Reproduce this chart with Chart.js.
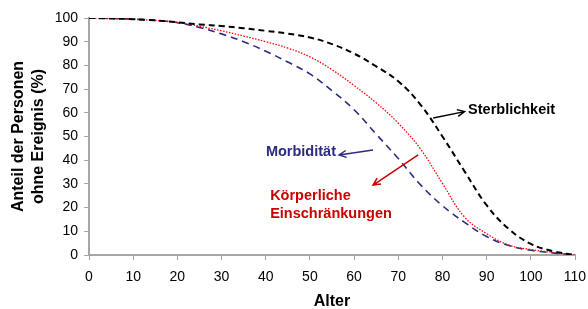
<!DOCTYPE html>
<html>
<head>
<meta charset="utf-8">
<script src="https://cdn.jsdelivr.net/npm/chart.js@4"></script>
<style>
  html, body { margin: 0; padding: 0; background: #fff; }
  #wrap { width: 588px; height: 309px; }
</style>
</head>
<body>
<div id="wrap"><canvas id="myChart"></canvas></div>
<script>
// Alter (Jahre)
const ages = [0, 5, 10, 15, 20, 25, 30, 35, 40, 45, 50, 55, 60, 65, 70, 75, 80, 85, 90, 95, 100, 105, 110];
// Anteil der Personen ohne Ereignis (%)
const sterblichkeit = [100, 99.8, 99.5, 99, 98.2, 97.3, 96.6, 95.7, 94.6, 93.4, 91.8, 89, 85, 79.6, 73.3, 63.5, 50, 35.3, 21, 11, 4.7, 1.6, 0];
const koerperlich = [100, 99.8, 99.5, 99, 98.2, 96.5, 94.6, 92.4, 90, 87.3, 83.6, 78.2, 71.5, 64.2, 55.6, 44.8, 30.2, 16, 9, 4.2, 2.3, 1.1, 0];
const morbiditaet = [100, 99.8, 99.5, 99, 98, 96, 93.3, 90, 86, 81.4, 76.4, 69.3, 61.3, 51, 40.7, 29.7, 20.8, 13.8, 7.8, 4, 2, 0.9, 0];
const xTicks = [0, 10, 20, 30, 40, 50, 60, 70, 80, 90, 100, 110];
const yTicks = [0, 10, 20, 30, 40, 50, 60, 70, 80, 90, 100];

const pts = (arr) => arr.map((v, i) => ({ x: ages[i], y: v }));

const NAVY = "#2b2b80";
const DARKRED = "#cc0000";
const FONT = "'Liberation Sans', Arial, sans-serif";

// Beschriftungen mit Pfeilen (in Datenkoordinaten)
const labels = [
  { text: ["Sterblichkeit"], x: 85.8, y: 61.2, align: "left", color: "#000000",
    arrow: { from: [77.9, 57.8], to: [85, 60.5] } },
  { text: ["Morbidität"], x: 55.9, y: 43.3, align: "right", color: NAVY,
    arrow: { from: [64.3, 44.3], to: [56.6, 42.2] } },
  { text: ["Körperliche", "Einschränkungen"], x: 41, y: 25, align: "left", color: DARKRED,
    arrow: { from: [74.5, 42.2], to: [64.3, 29.5] } },
];

const annotate = {
  id: "annotate",
  afterDraw(chart) {
    const c = chart.ctx;
    const xs = chart.scales.x, ys = chart.scales.y;
    c.save();
    labels.forEach((l) => {
      c.fillStyle = l.color;
      c.strokeStyle = l.color;
      c.font = "bold 14.5px " + FONT;
      c.textAlign = l.align;
      c.textBaseline = "middle";
      l.text.forEach((t, i) => {
        c.fillText(t, xs.getPixelForValue(l.x), ys.getPixelForValue(l.y) + i * 18);
      });
      // Pfeil
      const x1 = xs.getPixelForValue(l.arrow.from[0]), y1 = ys.getPixelForValue(l.arrow.from[1]);
      const x2 = xs.getPixelForValue(l.arrow.to[0]), y2 = ys.getPixelForValue(l.arrow.to[1]);
      const a = Math.atan2(y2 - y1, x2 - x1);
      c.lineWidth = 1.5;
      c.setLineDash([]);
      c.beginPath();
      c.moveTo(x1, y1);
      c.lineTo(x2, y2);
      c.moveTo(x2 - 8 * Math.cos(a - 0.45), y2 - 8 * Math.sin(a - 0.45));
      c.lineTo(x2, y2);
      c.lineTo(x2 - 8 * Math.cos(a + 0.45), y2 - 8 * Math.sin(a + 0.45));
      c.stroke();
    });
    c.restore();
  },
};

const cht = document.getElementById("myChart");

const chart = new Chart(cht, {
  type: "line",
  data: {
    datasets: [
      {
        label: "Sterblichkeit",
        data: pts(sterblichkeit),
        borderColor: "#000000",
        borderWidth: 2,
        borderDash: [6, 4],
      },
      {
        label: "Körperliche Einschränkungen",
        data: pts(koerperlich),
        borderColor: "#ff0000",
        borderWidth: 1.3,
        borderDash: [1.5, 1.5],
      },
      {
        label: "Morbidität",
        data: pts(morbiditaet),
        borderColor: NAVY,
        borderWidth: 1.6,
        borderDash: [7, 5],
      },
    ],
  },
  options: {
    responsive: true,
    maintainAspectRatio: false,
    animation: false,
    devicePixelRatio: 1,
    elements: {
      point: { radius: 0 },
      line: { tension: 0.4, fill: false },
    },
    layout: { padding: { top: 18, right: 0, left: 0, bottom: 0 } },
    scales: {
      x: {
        type: "linear",
        min: 0,
        max: 110,
        afterBuildTicks: (s) => { s.ticks = xTicks.map((v) => ({ value: v })); },
        afterFit: (s) => { s.height = 54; s.paddingRight = 13; s.paddingLeft = 0; },
        border: { color: "#a6a6a6", width: 2 },
        grid: { drawOnChartArea: false, color: "#a6a6a6", tickLength: 5, lineWidth: 1 },
        ticks: {
          color: "#000000",
          padding: 9,
          maxRotation: 0,
          font: { family: FONT, size: 14 },
        },
        title: {
          display: true,
          text: "Alter",
          color: "#000000",
          padding: { top: 0, bottom: 0 },
          font: { family: FONT, size: 16, weight: "bold", lineHeight: 0.9 },
        },
      },
      y: {
        min: 0,
        max: 100,
        afterBuildTicks: (s) => { s.ticks = yTicks.map((v) => ({ value: v })); },
        afterFit: (s) => { s.width = 89; },
        border: { color: "#a6a6a6", width: 2 },
        grid: { drawOnChartArea: false, color: "#a6a6a6", tickLength: 5, lineWidth: 1 },
        ticks: {
          color: "#000000",
          padding: 6,
          font: { family: FONT, size: 14 },
        },
        title: {
          display: true,
          text: ["Anteil der Personen", "ohne Ereignis (%)"],
          color: "#000000",
          padding: { top: 8.5, bottom: 0 },
          font: { family: FONT, size: 16, weight: "bold", lineHeight: 1.25 },
        },
      },
    },
    plugins: {
      legend: { display: false },
      tooltip: { enabled: false },
    },
  },
  plugins: [annotate],
});
</script>
</body>
</html>
